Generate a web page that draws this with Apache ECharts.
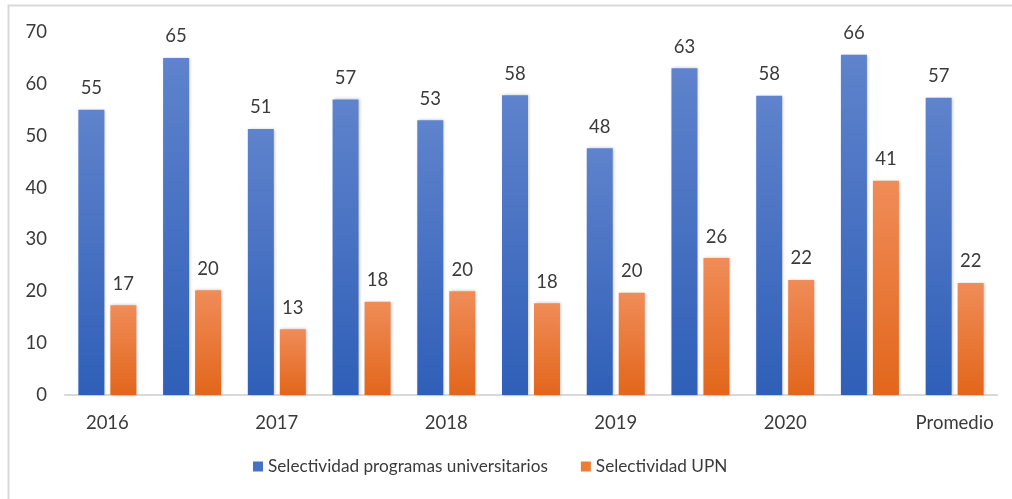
<!DOCTYPE html>
<html>
<head>
<meta charset="utf-8">
<script src="https://cdn.jsdelivr.net/npm/echarts@6/dist/echarts.min.js"></script>
<style>
  html, body { margin: 0; padding: 0; background: #fff; }
  #chart { width: 1012px; height: 499px; }
</style>
</head>
<body>
<div id="chart"></div>
<script>
// categorías (solo se rotulan las impares, como en el original)
var categorias = ['2016', '2016-2', '2017', '2017-2', '2018', '2018-2', '2019', '2019-2', '2020', '2020-2', 'Promedio'];
var etiquetasVisibles = ['2016', '', '2017', '', '2018', '', '2019', '', '2020', '', 'Promedio'];
var selectividadProgramas = [55.0, 65.0, 51.3, 57.0, 53.0, 57.8, 47.6, 63.0, 57.7, 65.6, 57.3];
var selectividadUPN = [17.3, 20.2, 12.7, 18.0, 20.0, 17.7, 19.7, 26.4, 22.2, 41.3, 21.6];
var nombres = ['Selectividad programas universitarios', 'Selectividad UPN'];

var fuente = 'Lato, "Open Sans", sans-serif';
var colorTexto = '#3a3a3a';

function gradiente(arriba, abajo) {
  return new echarts.graphic.LinearGradient(0, 0, 0, 1, [
    { offset: 0, color: arriba },
    { offset: 1, color: abajo }
  ]);
}

var etiquetaBarra = {
  show: true,
  position: 'top',
  distance: 12,
  fontSize: 18.5,
  color: colorTexto,
  formatter: function (p) { return Math.round(p.value); }
};

var chart = echarts.init(document.getElementById('chart'));
chart.setOption({
  animation: false,
  backgroundColor: '#fff',
  textStyle: { fontFamily: fuente },
  graphic: [{
    type: 'rect',
    shape: { x: 8.5, y: 5.5, width: 1020, height: 510 },
    style: { fill: 'none', stroke: '#d9d9d9', lineWidth: 2 },
    silent: true
  }],
  grid: { left: 65, right: 15, top: 32, bottom: 104 },
  legend: {
    bottom: 19,
    left: 248,
    itemWidth: 10,
    itemHeight: 10,
    itemGap: 33,
    icon: 'rect',
    textStyle: { fontSize: 17.2, color: colorTexto, fontFamily: fuente },
    data: [
      { name: nombres[0], itemStyle: { color: '#4472c4' } },
      { name: nombres[1], itemStyle: { color: '#ed7d31' } }
    ]
  },
  xAxis: {
    type: 'category',
    data: categorias,
    axisLine: { lineStyle: { color: '#d9d9d9', width: 2 } },
    axisTick: { show: false },
    axisLabel: {
      interval: 0,
      margin: 19,
      fontSize: 18.5,
      color: colorTexto,
      formatter: function (v, i) { return etiquetasVisibles[i]; }
    }
  },
  yAxis: {
    type: 'value',
    min: 0,
    max: 70,
    interval: 10,
    splitLine: { show: false },
    axisLine: { show: false },
    axisTick: { show: false },
    axisLabel: { fontSize: 18.5, color: colorTexto, margin: 18 }
  },
  series: [
    {
      name: nombres[0],
      type: 'bar',
      data: selectividadProgramas,
      barWidth: 26,
      barGap: '23%',
      itemStyle: {
        color: gradiente('#5f83cc', '#2f5fb8'),
        shadowColor: 'rgba(0,0,0,0.25)',
        shadowBlur: 3,
        shadowOffsetX: 1
      },
      label: etiquetaBarra
    },
    {
      name: nombres[1],
      type: 'bar',
      data: selectividadUPN,
      barWidth: 26,
      itemStyle: {
        color: gradiente('#f08c58', '#e2661b'),
        shadowColor: 'rgba(0,0,0,0.25)',
        shadowBlur: 3,
        shadowOffsetX: 1
      },
      label: etiquetaBarra
    }
  ]
});
</script>
</body>
</html>
